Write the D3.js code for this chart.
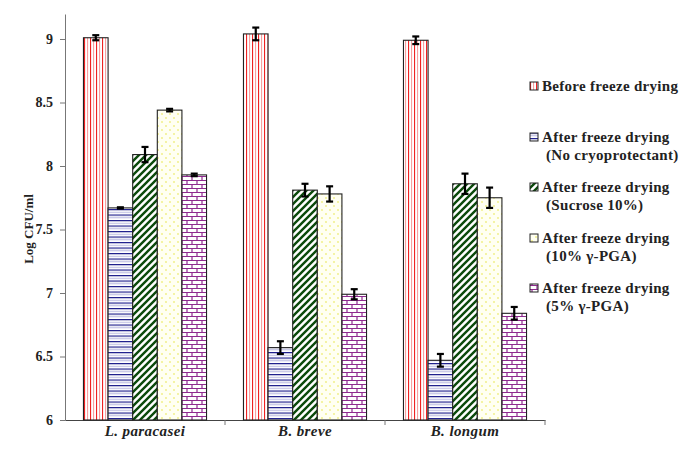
<!DOCTYPE html>
<html><head><meta charset="utf-8">
<script src="https://cdn.jsdelivr.net/npm/d3@7"></script>
<style>body{margin:0;background:#fff}svg{display:block}</style>
</head><body>
<script>
const categories = ["L. paracasei", "B. breve", "B. longum"];
const seriesNames = ["Before freeze drying", "After freeze drying (No cryoprotectant)", "After freeze drying (Sucrose 10%)", "After freeze drying (10% γ-PGA)", "After freeze drying (5% γ-PGA)"];
const legendLines = [["Before freeze drying"], ["After freeze drying", "(No cryoprotectant)"], ["After freeze drying", "(Sucrose 10%)"], ["After freeze drying", "(10% γ-PGA)"], ["After freeze drying", "(5% γ-PGA)"]];
const before = [9.01, 9.04, 8.99];
const noCryo = [7.67, 6.57, 6.47];
const sucrose = [8.09, 7.81, 7.86];
const pga10 = [8.44, 7.78, 7.75];
const pga5 = [7.93, 6.99, 6.84];
const errBefore = [0.02, 0.05, 0.03];
const errNoCryo = [0.005, 0.05, 0.05];
const errSucrose = [0.06, 0.05, 0.08];
const errPga10 = [0.01, 0.06, 0.08];
const errPga5 = [0.01, 0.04, 0.05];
const yTicks = [6, 6.5, 7, 7.5, 8, 8.5, 9];

const values = [before, noCryo, sucrose, pga10, pga5];
const errs = [errBefore, errNoCryo, errSucrose, errPga10, errPga5];
const FONT = "'Liberation Serif', 'Times New Roman', Times, serif";

const W = 685, H = 457;
const svg = d3.select("body").append("svg").attr("width", W).attr("height", H);
const defs = svg.append("defs");

// patterns
const p0 = defs.append("pattern").attr("id","p0").attr("patternUnits","userSpaceOnUse").attr("width",6).attr("height",6);
p0.append("rect").attr("width",6).attr("height",6).attr("fill","#fff");
p0.append("rect").attr("x",0).attr("width",1.1).attr("height",6).attr("fill","#ee2222");
p0.append("rect").attr("x",3).attr("width",1.1).attr("height",6).attr("fill","#f7a0a0");

const p1 = defs.append("pattern").attr("id","p1").attr("patternUnits","userSpaceOnUse").attr("width",6).attr("height",5.5);
p1.append("rect").attr("width",6).attr("height",5.5).attr("fill","#fff");
p1.append("rect").attr("y",0).attr("width",6).attr("height",1.2).attr("fill","#1a1a8a");
p1.append("rect").attr("y",2.8).attr("width",6).attr("height",1).attr("fill","#b8b8e0");

const p2 = defs.append("pattern").attr("id","p2").attr("patternUnits","userSpaceOnUse").attr("width",7).attr("height",7);
p2.append("rect").attr("width",7).attr("height",7).attr("fill","#fff");
p2.append("path").attr("d","M-1,8 L8,-1 M-4.5,4.5 L4.5,-4.5 M2.5,11.5 L11.5,2.5").attr("stroke","#0b4a0b").attr("stroke-width",2.4);

const p3 = defs.append("pattern").attr("id","p3").attr("patternUnits","userSpaceOnUse").attr("width",8).attr("height",8);
p3.append("rect").attr("width",8).attr("height",8).attr("fill","#fffff2");
p3.append("circle").attr("cx",2).attr("cy",2).attr("r",0.9).attr("fill","#f0ee80");
p3.append("circle").attr("cx",6).attr("cy",6).attr("r",0.9).attr("fill","#f0ee80");

const p4 = defs.append("pattern").attr("id","p4").attr("patternUnits","userSpaceOnUse").attr("width",10).attr("height",8);
p4.append("rect").attr("width",10).attr("height",8).attr("fill","#fff");
p4.append("path").attr("d","M0,0.5 H10 M0,4.5 H10 M2,0.5 V4.5 M7,4.5 V8.5").attr("stroke","#8f2a8f").attr("stroke-width",1.2).attr("fill","none");

const fills = ["url(#p0)","url(#p1)","url(#p2)","url(#p3)","url(#p4)"];

const m = {l:65, r:545, t:14, b:420};
const y = d3.scaleLinear().domain([6, 6 + (m.b - m.t) / 127]).range([m.b, m.t]);
const x0 = d3.scaleBand().domain(categories).range([m.l, m.r]).paddingInner(0).paddingOuter(0);
const x1 = d3.scaleBand().domain(d3.range(5)).range([0, x0.bandwidth()]).paddingOuter(0.75).paddingInner(0);

// y axis
const yAxis = svg.append("g").attr("transform",`translate(${m.l},0)`)
  .call(d3.axisLeft(y).tickValues(yTicks).tickSize(5).tickSizeOuter(0).tickFormat(d3.format("")));
yAxis.select(".domain").attr("stroke","#777");
yAxis.selectAll(".tick line").attr("stroke","#777");
yAxis.selectAll("text").attr("font-family",FONT).attr("font-weight","bold").attr("font-size",14).attr("fill","#222").attr("dx",-4);

// x axis
const xAxis = svg.append("g").attr("transform",`translate(0,${m.b})`)
  .call(d3.axisBottom(x0).tickSize(0).tickSizeOuter(0));
xAxis.select(".domain").attr("stroke","#444");
xAxis.selectAll("text").attr("font-family",FONT).attr("font-weight","bold").attr("font-style","italic").attr("font-size",15).attr("letter-spacing",0.4).attr("fill","#222").attr("dy",13);
const bounds = categories.map(c => x0(c) + x0.bandwidth());
svg.append("g").selectAll("line").data(bounds).join("line")
  .attr("x1",d=>d).attr("x2",d=>d).attr("y1",m.b).attr("y2",m.b+5).attr("stroke","#777");

// bars
categories.forEach((c, ci) => {
  values.forEach((vals, si) => {
    const bx = x0(c) + x1(si);
    svg.append("rect").attr("x", bx).attr("y", y(vals[ci])).attr("width", x1.bandwidth())
      .attr("height", y(6) - y(vals[ci])).attr("fill", fills[si]).attr("stroke","#222").attr("stroke-width",1.1);
  });
});
// error bars
categories.forEach((c, ci) => {
  values.forEach((vals, si) => {
    const cx = x0(c) + x1(si) + x1.bandwidth()/2;
    const e = errs[si][ci];
    const g = svg.append("g").attr("stroke","#000").attr("stroke-width",2.2);
    g.append("line").attr("x1",cx).attr("x2",cx).attr("y1",y(vals[ci]+e)).attr("y2",y(vals[ci]-e));
    g.append("line").attr("x1",cx-3.5).attr("x2",cx+3.5).attr("y1",y(vals[ci]+e)).attr("y2",y(vals[ci]+e));
    g.append("line").attr("x1",cx-3.5).attr("x2",cx+3.5).attr("y1",y(vals[ci]-e)).attr("y2",y(vals[ci]-e));
  });
});

// y label
svg.append("text").attr("transform",`translate(33,229) rotate(-90)`).attr("text-anchor","middle")
  .attr("font-family",FONT).attr("font-weight","bold").attr("font-size",13).attr("fill","#222")
  .text("Log CFU/ml");

// legend
const legY = [87, 138, 188, 239, 289];
legendLines.forEach((lines, i) => {
  const g = svg.append("g").attr("transform",`translate(530,${legY[i]})`);
  g.append("rect").attr("x",0).attr("y",-5).attr("width",8).attr("height",8).attr("fill",fills[i]).attr("stroke","#222").attr("stroke-width",1);
  lines.forEach((t, li) => {
    g.append("text").attr("x",12).attr("y",li*18 + 4).attr("font-family",FONT).attr("font-weight","bold")
      .attr("font-size",15).attr("letter-spacing",0.3).attr("fill","#222").text(li === 0 ? t : "\u00a0" + t);
  });
});
</script>
</body></html>
